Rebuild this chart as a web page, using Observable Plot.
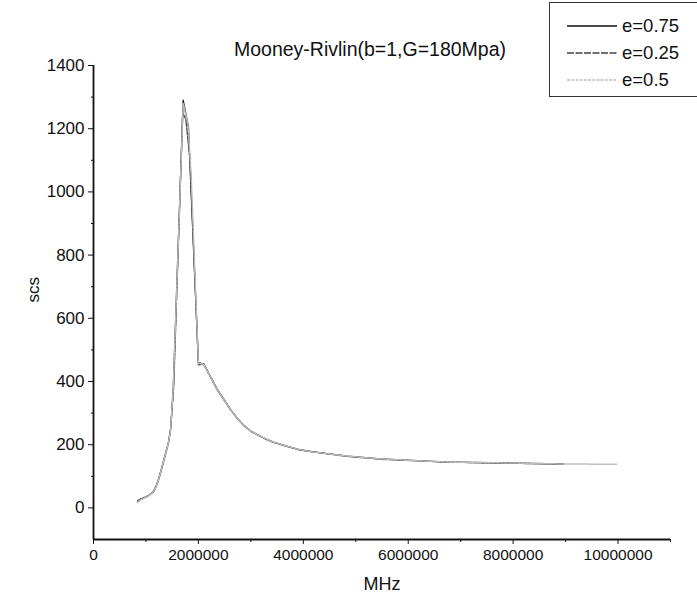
<!DOCTYPE html>
<html>
<head>
<meta charset="utf-8">
<script src="https://cdn.jsdelivr.net/npm/d3@7"></script>
<script src="https://cdn.jsdelivr.net/npm/@observablehq/plot@0.6"></script>
<style>
  html, body { margin: 0; padding: 0; background: #fff; }
  #wrap { position: relative; width: 697px; height: 607px; font-family: "Liberation Sans", Arial, sans-serif; }
  #legend { position: absolute; left: 549px; top: 2px; width: 150px; height: 95px; border: 1px solid #333; background: #fff; box-sizing: border-box; }
  .row { position: absolute; left: 0; height: 22px; display: flex; align-items: center; }
  .row span { font-size: 18.5px; color: #111; margin-left: 5px; }
</style>
</head>
<body>
<div id="wrap"></div>
<script>
// ---- data ----
const seriesNames = ["e=0.75", "e=0.25", "e=0.5"];

const freq075 = [840000, 900000, 1000000, 1070000, 1140000, 1190000, 1240000, 1330000, 1430000, 1470000, 1520000, 1710000, 1810000, 1850000, 2000000, 2100000, 2360000, 2500000, 2610000, 2750000, 2860000, 3000000, 3240000, 3430000, 3700000, 3940000, 4190000, 4840000, 5470000, 6740000, 8000000, 8950000];
const scs075  = [22, 28, 35, 42, 52, 68, 91, 145, 208, 249, 375, 1290, 1205, 1044, 460, 455, 375, 340, 312, 282, 262, 243, 222, 208, 195, 184, 177, 164, 155, 145, 142, 139];

const freq025 = [840000, 900000, 1000000, 1070000, 1140000, 1190000, 1240000, 1330000, 1430000, 1470000, 1530000, 1700000, 1760000, 1840000, 2000000, 2100000, 2360000, 2500000, 2610000, 2750000, 2860000, 3000000, 3240000, 3430000, 3700000, 3940000, 4190000, 4840000, 5470000, 6740000, 8000000, 8950000];
const scs025  = [20, 27, 34, 41, 50, 66, 88, 142, 205, 250, 385, 1250, 1230, 1100, 452, 456, 373, 339, 311, 281, 261, 242, 221, 207, 194, 183, 177, 163, 154, 145, 141, 139];

const freq05  = [840000, 900000, 1000000, 1070000, 1140000, 1190000, 1240000, 1330000, 1430000, 1470000, 1520000, 1710000, 1800000, 1860000, 2000000, 2100000, 2360000, 2500000, 2610000, 2750000, 2860000, 3000000, 3240000, 3430000, 3700000, 3940000, 4190000, 4840000, 5470000, 6740000, 8000000, 8950000, 9980000];
const scs05   = [18, 26, 34, 41, 51, 67, 90, 144, 207, 248, 378, 1280, 1215, 1060, 458, 455, 374, 340, 312, 282, 262, 243, 222, 208, 195, 184, 177, 164, 155, 145, 142, 139, 138];

const yTicks = [0, 200, 400, 600, 800, 1000, 1200, 1400];
const yMinor = [100, 300, 500, 700, 900, 1100, 1300];
const xTicks = [0, 2000000, 4000000, 6000000, 8000000, 10000000];
const xMinor = [1000000, 3000000, 5000000, 7000000, 9000000, 11000000];

const titleText = "Mooney-Rivlin(b=1,G=180Mpa)";
const xLabel = "MHz";
const yLabel = "scs";

const styles = [
  {stroke: "#111", dash: null, width: 1.3},
  {stroke: "#444", dash: "7,1.5", width: 1.3},
  {stroke: "#bcbcbc", dash: "3,1.2", width: 1.5}
];

const toPts = (fs, vs) => fs.map((f, i) => ({f, v: vs[i]}));
const data = [toPts(freq075, scs075), toPts(freq025, scs025), toPts(freq05, scs05)];

const chart = Plot.plot({
  width: 697,
  height: 607,
  marginLeft: 93,
  marginRight: 27,
  marginTop: 65,
  marginBottom: 68,
  style: {fontFamily: "'Liberation Sans', Arial, sans-serif", background: "#fff", color: "#111", overflow: "visible"},
  x: {domain: [0, 11000000]},
  y: {domain: [-100, 1400]},
  marks: [
    Plot.axisY({ticks: yTicks, tickSize: 5, tickPadding: 4, tickFormat: d => String(d), fontSize: 17, label: null}),
    Plot.axisY({ticks: yMinor, tickSize: 2, tickFormat: () => "", label: null}),
    Plot.axisX({ticks: xTicks, tickSize: 5, tickPadding: 4, tickFormat: d => String(d), fontSize: 15.5, label: null}),
    Plot.axisX({ticks: xMinor, tickSize: 3, tickFormat: () => "", label: null}),
    Plot.ruleX([0], {stroke: "#111", strokeWidth: 1.8}),
    Plot.ruleY([-100], {stroke: "#111", strokeWidth: 2}),
    Plot.line(data[0], {x: "f", y: "v", stroke: styles[0].stroke, strokeWidth: styles[0].width}),
    Plot.line(data[1], {x: "f", y: "v", stroke: styles[1].stroke, strokeWidth: styles[1].width, strokeDasharray: styles[1].dash}),
    Plot.line(data[2], {x: "f", y: "v", stroke: styles[2].stroke, strokeWidth: styles[2].width, strokeDasharray: styles[2].dash}),
    Plot.text([yLabel], {frameAnchor: "left", dx: -60, rotate: -90, fontSize: 17, fill: "#111"}),
    Plot.text([xLabel], {frameAnchor: "bottom", dy: 50, fontSize: 18, fill: "#111"}),
    Plot.text([titleText], {frameAnchor: "top", dx: -12, dy: -23, fontSize: 19.5, fill: "#111"})
  ]
});

const wrap = document.getElementById("wrap");
wrap.appendChild(chart);

// legend
const legend = document.createElement("div");
legend.id = "legend";
seriesNames.forEach((name, i) => {
  const row = document.createElement("div");
  row.className = "row";
  row.style.top = (12 + i * 27) + "px";
  row.style.left = "17px";
  const s = styles[i];
  row.innerHTML = `<svg width="50" height="4"><line x1="0" y1="2" x2="50" y2="2" stroke="${s.stroke}" stroke-width="1.3" ${s.dash ? `stroke-dasharray="${s.dash}"` : ""}/></svg><span>${name}</span>`;
  legend.appendChild(row);
});
wrap.appendChild(legend);
</script>
</body>
</html>
